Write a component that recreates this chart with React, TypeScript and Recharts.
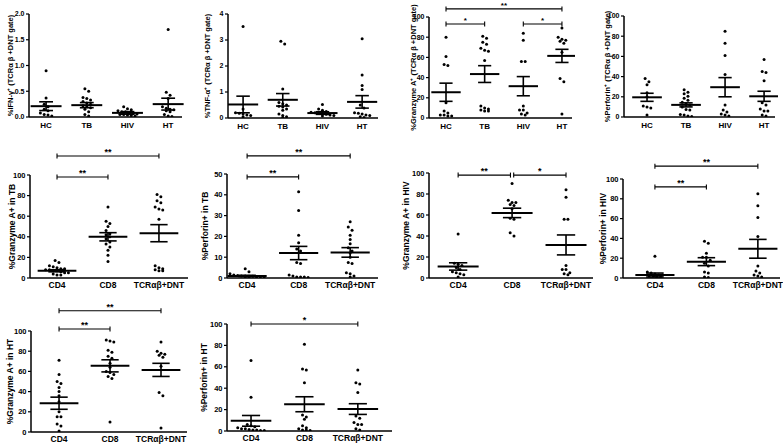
import React from 'react';
import { ScatterChart, Scatter, XAxis, YAxis, ReferenceLine } from 'recharts';

const FONT = '"Liberation Sans", Arial, Helvetica, sans-serif';

const cohorts = ['HC', 'TB', 'HIV', 'HT'];
const subsets = ['CD4', 'CD8', 'TCRαβ+DNT'];

// IFN-γ+ within TCRαβ+DNT gate
const ifnHC = [0.9, 0.37, 0.25, 0.2, 0.15, 0.12, 0.08, 0.05, 0.04, 0.02];
const ifnTB = [0.55, 0.5, 0.38, 0.36, 0.33, 0.3, 0.27, 0.25, 0.22, 0.2, 0.18, 0.15, 0.1, 0.05, 0.02];
const ifnHIV = [0.2, 0.16, 0.14, 0.12, 0.1, 0.1, 0.08, 0.07, 0.06, 0.05, 0.05, 0.04, 0.03, 0.02];
const ifnHT = [1.7, 0.48, 0.42, 0.36, 0.2, 0.17, 0.15, 0.14, 0.12, 0.1, 0.05, 0.02, 0.01];
const ifnMean = [0.21, 0.23, 0.08, 0.25];
const ifnSem = [0.085, 0.05, 0.025, 0.115];

// TNF-α+ within TCRαβ+DNT gate
const tnfHC = [3.52, 0.35, 0.2, 0.18, 0.15, 0.12, 0.1, 0.05];
const tnfTB = [2.95, 2.85, 1.12, 0.6, 0.55, 0.5, 0.45, 0.42, 0.35, 0.3, 0.15, 0.1, 0.05, 0.02];
const tnfHIV = [0.52, 0.35, 0.3, 0.25, 0.22, 0.2, 0.18, 0.15, 0.14, 0.12, 0.1, 0.08];
const tnfHT = [3.05, 1.65, 1.25, 1.1, 0.5, 0.38, 0.2, 0.18, 0.15, 0.12, 0.1, 0.05, 0.02];
const tnfMean = [0.52, 0.7, 0.19, 0.62];
const tnfSem = [0.32, 0.24, 0.05, 0.24];

// Granzyme A+ within TCRαβ+DNT gate (shared with the subset panels)
const gzmHC = [80, 61, 53, 52, 15, 7, 5, 3, 3, 2, 2];
const gzmTB = [81, 79, 75, 73, 69, 67, 66, 57, 12, 10, 9, 8, 7, 7];
const gzmHIV = [84, 77, 56, 56, 12, 8, 8, 5, 4, 3];
const gzmHT = [89, 80, 78, 77, 76, 74, 65, 39, 36, 4];
const gzmMean = [25.5, 43.5, 31.5, 61.5];
const gzmSem = [9, 8.3, 9.5, 6.5];

// Perforin+ within TCRαβ+DNT gate
const perfHC = [38, 35, 32, 24, 20, 11, 10, 9, 2];
const perfTB = [27, 24.5, 23, 20.5, 18.5, 16.5, 14.5, 13, 12, 10, 7.5, 7, 2.5, 2, 1, 0.5];
const perfHIV = [85, 73, 61, 42, 12, 7, 5, 3, 2, 1];
const perfHT = [57, 45, 44, 36, 14, 12, 8, 6, 6, 2, 1];
const perfMean = [19.5, 12, 29.5, 20.5];
const perfSem = [4, 2, 9.5, 5];

// CD4 / CD8 subsets
const gzmTBCD4 = [17, 15, 12, 11, 10, 9, 9, 8, 8, 7, 7, 6, 5, 5, 4, 3, 3];
const gzmTBCD8 = [69, 55, 53, 50, 46, 43, 42, 40, 38, 35, 33, 30, 27, 22, 16];
const gzmTBMean = [7, 40, 43.5];
const gzmTBSem = [1, 4, 8.3];

const perfTBCD4 = [4.5, 3, 2, 1.5, 1.2, 1, 1, 0.8, 0.8, 0.5, 0.5, 0.5, 0.3, 0.3];
const perfTBCD8 = [41.5, 32.5, 20.5, 17, 14, 13, 7.5, 7, 1.5, 1, 0.5, 0.5, 0.5, 0.3];
const perfTBMean = [1, 12, 12.3];
const perfTBSem = [0.3, 3.2, 2.3];

const gzmHIVCD4 = [42, 14, 13, 12, 10, 8, 6, 5, 4, 3, 1];
const gzmHIVCD8 = [90, 74, 72, 72, 70, 69, 66, 57, 56, 43, 40];
const gzmHIVMean = [11, 62, 31.5];
const gzmHIVSem = [3.5, 4.5, 9.5];

const perfHIVCD4 = [22, 6, 5, 4, 3, 3, 2, 2, 1, 1];
const perfHIVCD8 = [37, 35, 25, 21, 21, 18, 15, 12, 6, 5, 1, 0.5];
const perfHIVMean = [3, 16.5, 29.5];
const perfHIVSem = [2, 4, 9.5];

const gzmHTCD4 = [71, 57, 50, 48, 44, 40, 36, 30, 20, 15, 15, 8, 6, 1];
const gzmHTCD8 = [91, 90, 89, 81, 79, 75, 73, 68, 64, 60, 59, 57, 55, 53, 10];
const gzmHTMean = [28.5, 65.5, 61.5];
const gzmHTSem = [6, 6, 6.5];

const perfHTCD4 = [66, 31.5, 6, 5, 4, 3, 2, 2, 1.5, 1, 1, 0.5, 0.5];
const perfHTCD8 = [81, 58, 57, 45, 15, 13, 11, 5, 3, 2, 1, 1, 0.5];
const perfHTMean = [9.5, 25, 20.5];
const perfHTSem = [5, 7, 5];

const ticks2 = [0, 0.5, 1, 1.5, 2];
const ticks4 = [0, 1, 2, 3, 4];
const ticks50 = [0, 10, 20, 30, 40, 50];
const ticks100 = [0, 20, 40, 60, 80, 100];

// [from group, to group, y value, stars]
type Bracket = [number, number, number, string];

interface Panel {
  label: string;
  groups: string[];
  dots: number[][];
  mean: number[];
  sem: number[];
  yMax: number;
  yTicks: number[];
  decimals: number;
  brackets: Bracket[];
  // layout, in page pixels
  top: number; axisX: number; right: number; yTop: number; yZero: number;
  xMin: number; xMax: number; labelDist: number; big: boolean;
}

const panels: Panel[] = [
  {
    label: '%IFN-γ⁺ (TCRα β +DNT gate)', groups: cohorts, dots: [ifnHC, ifnTB, ifnHIV, ifnHT],
    mean: ifnMean, sem: ifnSem, yMax: 2, yTicks: ticks2, decimals: 1, brackets: [],
    top: 0, axisX: 29, right: 182, yTop: 14, yZero: 117, xMin: -0.42, xMax: 3.34, labelDist: 19, big: false,
  },
  {
    label: '%TNF-α⁺ (TCRα β +DNT gate)', groups: cohorts, dots: [tnfHC, tnfTB, tnfHIV, tnfHT],
    mean: tnfMean, sem: tnfSem, yMax: 4, yTicks: ticks4, decimals: 0, brackets: [],
    top: 0, axisX: 228, right: 378, yTop: 14, yZero: 118, xMin: -0.38, xMax: 3.4, labelDist: 21, big: false,
  },
  {
    label: '%Granzyme A⁺ (TCRα β +DNT gate)', groups: cohorts, dots: [gzmHC, gzmTB, gzmHIV, gzmHT],
    mean: gzmMean, sem: gzmSem, yMax: 100, yTicks: ticks100, decimals: 0,
    brackets: [[0, 3, 108, '**'], [0, 1, 93, '*'], [2, 3, 93, '*']],
    top: 0, axisX: 429, right: 572, yTop: 17, yZero: 118, xMin: -0.44, xMax: 3.26, labelDist: 16, big: false,
  },
  {
    label: '%Perforin⁺ (TCRα β +DNT gate)', groups: cohorts, dots: [perfHC, perfTB, perfHIV, perfHT],
    mean: perfMean, sem: perfSem, yMax: 100, yTicks: ticks100, decimals: 0, brackets: [],
    top: 0, axisX: 624, right: 775, yTop: 16, yZero: 117, xMin: -0.59, xMax: 3.28, labelDist: 17, big: false,
  },
  {
    label: '%Granzyme A+ in TB', groups: subsets, dots: [gzmTBCD4, gzmTBCD8, gzmTB],
    mean: gzmTBMean, sem: gzmTBSem, yMax: 100, yTicks: ticks100, decimals: 0,
    brackets: [[0, 2, 118.5, '**'], [0, 1, 98, '**']],
    top: 140, axisX: 30, right: 188, yTop: 175, yZero: 278, xMin: -0.53, xMax: 2.57, labelDist: 18, big: true,
  },
  {
    label: '%Perforin+ in TB', groups: subsets, dots: [perfTBCD4, perfTBCD8, perfTB],
    mean: perfTBMean, sem: perfTBSem, yMax: 50, yTicks: ticks50, decimals: 0,
    brackets: [[0, 2, 58.7, '**'], [0, 1, 48.6, '**']],
    top: 140, axisX: 227, right: 378, yTop: 174, yZero: 278, xMin: -0.39, xMax: 2.54, labelDist: 22, big: true,
  },
  {
    label: '%Granzyme A+ in HIV', groups: subsets, dots: [gzmHIVCD4, gzmHIVCD8, gzmHIV],
    mean: gzmHIVMean, sem: gzmHIVSem, yMax: 100, yTicks: ticks100, decimals: 0,
    brackets: [[0, 0.97, 98, '**'], [1.03, 2, 98, '*']],
    top: 140, axisX: 429, right: 593, yTop: 173, yZero: 278, xMin: -0.54, xMax: 2.5, labelDist: 23, big: true,
  },
  {
    label: '%Perforin+ in HIV', groups: subsets, dots: [perfHIVCD4, perfHIVCD8, perfHIV],
    mean: perfHIVMean, sem: perfHIVSem, yMax: 100, yTicks: ticks100, decimals: 0,
    brackets: [[0, 2, 113, '**'], [0, 1, 92, '**']],
    top: 140, axisX: 623, right: 780, yTop: 179, yZero: 278, xMin: -0.62, xMax: 2.43, labelDist: 20, big: true,
  },
  {
    label: '%Granzyme A+ in HT', groups: subsets, dots: [gzmHTCD4, gzmHTCD8, gzmHT],
    mean: gzmHTMean, sem: gzmHTSem, yMax: 100, yTicks: ticks100, decimals: 0,
    brackets: [[0, 2, 120, '**'], [0, 1, 102, '**']],
    top: 290, axisX: 31, right: 187, yTop: 331, yZero: 432, xMin: -0.55, xMax: 2.51, labelDist: 21, big: true,
  },
  {
    label: '%Perforin+ in HT', groups: subsets, dots: [perfHTCD4, perfHTCD8, perfHT],
    mean: perfHTMean, sem: perfHTSem, yMax: 100, yTicks: ticks100, decimals: 0,
    brackets: [[0, 2, 100, '*']],
    top: 290, axisX: 227, right: 392, yTop: 324, yZero: 431, xMin: -0.45, xMax: 2.64, labelDist: 23, big: true,
  },
];

const Y_W = 34;

// Prism-like column scatter: rows of close values are spread symmetrically
function swarm(values: number[], group: number, stepX: number, thr: number) {
  const sorted = [...values].sort((a, b) => b - a);
  const out: { x: number; y: number }[] = [];
  let i = 0;
  while (i < sorted.length) {
    const row = [sorted[i]];
    let j = i + 1;
    while (j < sorted.length && sorted[i] - sorted[j] < thr) row.push(sorted[j++]);
    row.forEach((v, k) => out.push({ x: group + (k - (row.length - 1) / 2) * stepX, y: v }));
    i = j;
  }
  return out;
}

const Dot = (props: any) => <circle cx={props.cx} cy={props.cy} r={1.5} fill="#000" />;

function PanelChart({ p }: { p: Panel }) {
  const left = p.axisX - Y_W;
  const width = p.right - left + 3;
  const xAxisH = p.big ? 18 : 17;
  const height = p.yZero + xAxisH - p.top;
  const pxPerX = (p.right - p.axisX) / (p.xMax - p.xMin);
  const pxPerY = (p.yZero - p.yTop) / p.yMax;
  const stepX = 3.8 / pxPerX;
  const thr = 3.2 / pxPerY;
  const tickH = 2.5 / pxPerY;
  const points = p.dots.flatMap((vals, g) => swarm(vals, g, stepX, thr));
  const tickFont = p.big ? 7.5 : 7;
  const catFont = p.big ? 8.5 : 8;
  const labelFont = p.big ? 8.5 : 7.5;
  const starFont = p.big ? 9 : 8;
  const meanHalf = 0.38;
  const capHalf = 0.17;
  const bold = { fontFamily: FONT, fontWeight: 'bold', fill: '#000' } as const;

  const segs: React.ReactNode[] = [];
  p.mean.forEach((m, g) => {
    const s = p.sem[g];
    segs.push(
      <ReferenceLine key={`m${g}`} segment={[{ x: g - meanHalf, y: m }, { x: g + meanHalf, y: m }]} stroke="#000" strokeWidth={2} ifOverflow="visible" />,
      <ReferenceLine key={`v${g}`} segment={[{ x: g, y: m - s }, { x: g, y: m + s }]} stroke="#000" strokeWidth={1.6} ifOverflow="visible" />,
      <ReferenceLine key={`h${g}`} segment={[{ x: g - capHalf, y: m + s }, { x: g + capHalf, y: m + s }]} stroke="#000" strokeWidth={1.6} ifOverflow="visible" />,
      <ReferenceLine key={`l${g}`} segment={[{ x: g - capHalf, y: m - s }, { x: g + capHalf, y: m - s }]} stroke="#000" strokeWidth={1.6} ifOverflow="visible" />,
    );
  });
  p.brackets.forEach(([a, b, y, stars], k) => {
    segs.push(
      <ReferenceLine key={`b${k}`} segment={[{ x: a, y }, { x: b, y }]} stroke="#000" strokeWidth={1.1} ifOverflow="visible"
        label={{ value: stars, position: 'top', offset: 1, fontSize: starFont, ...bold }} />,
      <ReferenceLine key={`ba${k}`} segment={[{ x: a, y: y - tickH }, { x: a, y: y + tickH }]} stroke="#000" strokeWidth={1.1} ifOverflow="visible" />,
      <ReferenceLine key={`bb${k}`} segment={[{ x: b, y: y - tickH }, { x: b, y: y + tickH }]} stroke="#000" strokeWidth={1.1} ifOverflow="visible" />,
    );
  });

  return (
    <div style={{ position: 'absolute', left, top: p.top }}>
      <ScatterChart width={width} height={height} margin={{ top: p.yTop - p.top, right: 3, bottom: 0, left: 0 }}>
        <XAxis
          type="number" dataKey="x" domain={[p.xMin, p.xMax]} allowDataOverflow
          ticks={p.groups.map((_, i) => i)} interval={0}
          tickFormatter={(v: number) => p.groups[v] ?? ''}
          height={xAxisH} tickLine={false} tickSize={2} tickMargin={p.big ? 2 : 3}
          axisLine={{ stroke: '#000', strokeWidth: 1.5 }}
          tick={{ fontSize: catFont, ...bold }}
        />
        <YAxis
          type="number" dataKey="y" domain={[0, p.yMax]} allowDataOverflow
          ticks={p.yTicks} interval={0} width={Y_W}
          tickFormatter={(v: number) => v.toFixed(p.decimals)}
          tickSize={3} tickMargin={1.5}
          axisLine={{ stroke: '#000', strokeWidth: 1.5 }}
          tickLine={{ stroke: '#000', strokeWidth: 1.2 }}
          tick={{ fontSize: tickFont, ...bold }}
          label={{
            value: p.label, angle: -90, position: 'insideLeft', offset: Y_W - p.labelDist,
            style: { textAnchor: 'middle', fontSize: labelFont, fontFamily: FONT, fontWeight: 'bold', fill: '#000' },
          }}
        />
        {segs}
        <Scatter data={points} shape={Dot} isAnimationActive={false} />
      </ScatterChart>
    </div>
  );
}

export default function App() {
  return (
    <div style={{ position: 'absolute', left: 0, top: 0, width: 784, height: 445, background: '#fff', overflow: 'hidden' }}>
      {panels.map((p, i) => (
        <PanelChart key={i} p={p} />
      ))}
    </div>
  );
}
